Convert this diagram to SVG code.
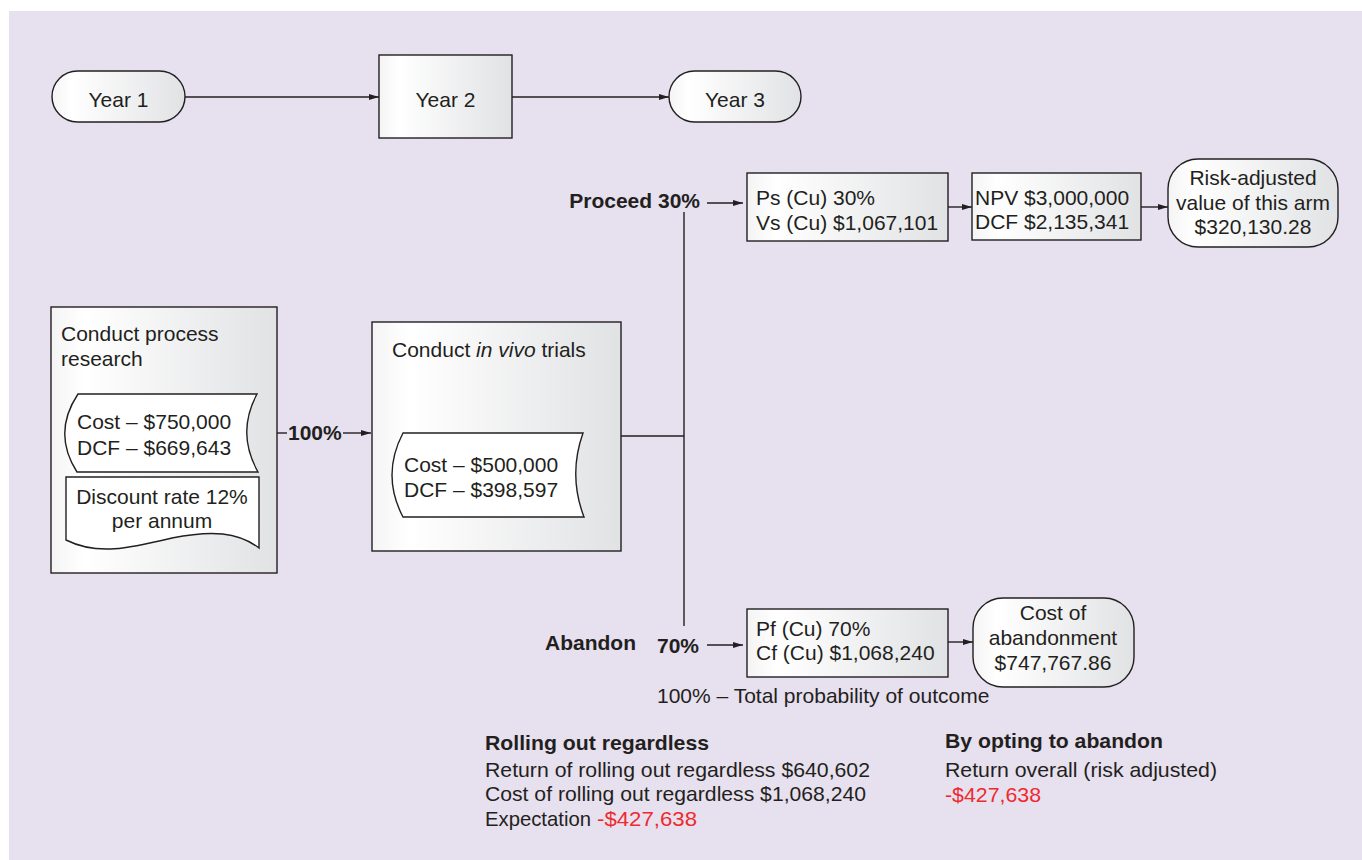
<svg xmlns="http://www.w3.org/2000/svg" width="1362" height="860" viewBox="0 0 1362 860">
  <defs>
    <linearGradient id="boxFill" x1="0" y1="0" x2="1" y2="0">
      <stop offset="0" stop-color="#f4f4f5"/>
      <stop offset="0.15" stop-color="#ffffff"/>
      <stop offset="1" stop-color="#e1e2e4"/>
    </linearGradient>
    <marker id="arrow" markerUnits="userSpaceOnUse" markerWidth="10" markerHeight="8" refX="10" refY="4" orient="auto">
      <path d="M0,1 L10,4 L0,7 Z" fill="#231f20"/>
    </marker>
    <style>
      .shape { fill: url(#boxFill); stroke: #231f20; stroke-width: 1.4; }
      .plain { fill: #ffffff; stroke: #231f20; stroke-width: 1.4; }
      .line { fill: none; stroke: #231f20; stroke-width: 1.4; }
      .arr { fill: none; stroke: #231f20; stroke-width: 1.4; marker-end: url(#arrow); }
      text { font-family: "Liberation Sans", Arial, Helvetica, sans-serif; font-size: 21px; fill: #231f20; }
      .b { font-weight: bold; }
      .c { text-anchor: middle; }
      .red { fill: #ee2a2f; }
    </style>
  </defs>

  <!-- page background -->
  <rect x="9" y="11" width="1353" height="849" fill="#e7e0ee"/>

  <!-- connectors -->
  <g id="connectors">
    <line class="arr" x1="185" y1="97" x2="379" y2="97"/>
    <line class="arr" x1="512" y1="97" x2="669" y2="97"/>
    <line class="line" x1="277" y1="433" x2="287" y2="433"/>
    <line class="arr" x1="343" y1="433" x2="371" y2="433"/>
    <line class="line" x1="621" y1="436" x2="684" y2="436"/>
    <line class="line" x1="684" y1="212" x2="684" y2="626"/>
    <line class="arr" x1="707" y1="203" x2="743" y2="203"/>
    <line class="arr" x1="948" y1="207" x2="972" y2="207"/>
    <line class="arr" x1="1141" y1="207" x2="1168" y2="207"/>
    <line class="arr" x1="707" y1="645" x2="743" y2="645"/>
    <line class="arr" x1="948" y1="642" x2="973" y2="642"/>
  </g>

  <!-- timeline -->
  <g id="year1">
    <rect class="shape" x="52" y="71" width="133" height="51" rx="25.5"/>
    <text class="c" x="118.5" y="107">Year 1</text>
  </g>
  <g id="year2">
    <rect class="shape" x="379" y="55" width="133" height="83"/>
    <text class="c" x="445.5" y="107">Year 2</text>
  </g>
  <g id="year3">
    <rect class="shape" x="669" y="71" width="132" height="51" rx="25.5"/>
    <text class="c" x="735" y="107">Year 3</text>
  </g>

  <!-- stage 1 -->
  <g id="process-research">
    <rect class="shape" x="51" y="307" width="226" height="266"/>
    <text x="61" y="341">Conduct process</text>
    <text x="61" y="366">research</text>
    <path class="plain" d="M78,394 L257,394 Q236,433 258,472 L77,472 Q52,433 78,394 Z"/>
    <text x="77" y="429">Cost – $750,000</text>
    <text x="77" y="455">DCF – $669,643</text>
    <path class="plain" d="M66,477 L259,477 L259,548 C238,532 212,530 172,538 C130,548 98,556 66,540 Z"/>
    <text class="c" x="162" y="504">Discount rate 12%</text>
    <text class="c" x="162" y="528">per annum</text>
  </g>
  <text id="label-100" class="b" x="288" y="440">100%</text>

  <!-- stage 2 -->
  <g id="in-vivo-trials">
    <rect class="shape" x="372" y="322" width="249" height="229"/>
    <text x="392" y="357">Conduct <tspan font-style="italic">in vivo</tspan> trials</text>
    <path class="plain" d="M403,433 L583,433 Q568,475 584,517 L403,517 Q381,475 403,433 Z"/>
    <text x="404" y="472">Cost – $500,000</text>
    <text x="404" y="497">DCF – $398,597</text>
  </g>

  <!-- proceed branch -->
  <text id="label-proceed" class="b" x="700" y="208" text-anchor="end">Proceed 30%</text>
  <g id="proceed-values">
    <rect class="shape" x="747" y="173" width="201" height="68"/>
    <text x="756" y="205">Ps (Cu) 30%</text>
    <text x="756" y="230">Vs (Cu) $1,067,101</text>
  </g>
  <g id="npv">
    <rect class="shape" x="972" y="173" width="169" height="67"/>
    <text x="975" y="205">NPV $3,000,000</text>
    <text x="975" y="229">DCF $2,135,341</text>
  </g>
  <g id="risk-adjusted">
    <rect class="shape" x="1168" y="159" width="170" height="88" rx="30"/>
    <text class="c" x="1253" y="185">Risk-adjusted</text>
    <text class="c" x="1253" y="210">value of this arm</text>
    <text class="c" x="1253" y="234">$320,130.28</text>
  </g>

  <!-- abandon branch -->
  <text id="label-abandon" class="b" x="545" y="650">Abandon</text>
  <text id="label-70" class="b" x="657" y="653">70%</text>
  <g id="abandon-values">
    <rect class="shape" x="747" y="609" width="201" height="68"/>
    <text x="756" y="636">Pf (Cu) 70%</text>
    <text x="756" y="660">Cf (Cu) $1,068,240</text>
  </g>
  <g id="abandon-cost">
    <rect class="shape" x="973" y="598" width="161" height="89" rx="30"/>
    <text class="c" x="1053" y="620">Cost of</text>
    <text class="c" x="1053" y="645">abandonment</text>
    <text class="c" x="1053" y="670">$747,767.86</text>
  </g>
  <text id="total-probability" x="657" y="703">100% – Total probability of outcome</text>

  <!-- summary -->
  <g id="summary-rollout">
    <text class="b" x="485" y="750" textLength="224" lengthAdjust="spacingAndGlyphs">Rolling out regardless</text>
    <text x="485" y="777" textLength="385" lengthAdjust="spacingAndGlyphs">Return of rolling out regardless $640,602</text>
    <text x="485" y="801" textLength="381" lengthAdjust="spacingAndGlyphs">Cost of rolling out regardless $1,068,240</text>
    <text x="485" y="826" textLength="106" lengthAdjust="spacingAndGlyphs">Expectation</text>
    <text class="red" x="597" y="826" textLength="100" lengthAdjust="spacingAndGlyphs">-$427,638</text>
  </g>
  <g id="summary-abandon">
    <text class="b" x="945" y="748" textLength="218" lengthAdjust="spacingAndGlyphs">By opting to abandon</text>
    <text x="945" y="777" textLength="272" lengthAdjust="spacingAndGlyphs">Return overall (risk adjusted)</text>
    <text class="red" x="945" y="802" textLength="96" lengthAdjust="spacingAndGlyphs">-$427,638</text>
  </g>
</svg>
